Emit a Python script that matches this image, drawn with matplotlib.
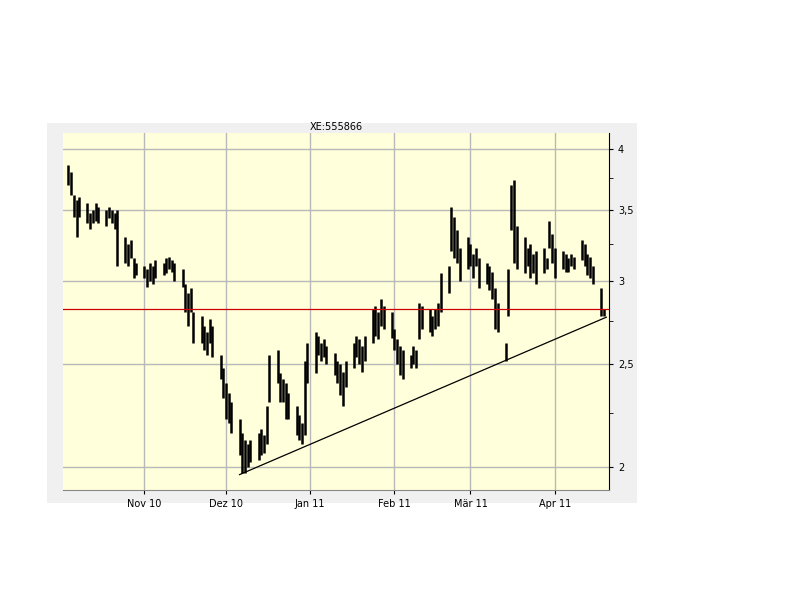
import matplotlib
matplotlib.use("Agg")
import matplotlib.pyplot as plt
from matplotlib.ticker import FixedLocator, FixedFormatter, NullFormatter
import pandas as pd

dates = pd.bdate_range("2010-10-04", "2011-04-19")
highs = [3.86,3.80,3.62,3.58,3.60, 3.55,3.48,3.50,3.55,3.52, 3.50,3.52,3.50,3.48,3.50,
         3.30,3.25,3.28,3.15,3.12, 3.10,3.08,3.12,3.10,3.14, 3.12,3.15,3.16,3.14,3.12,
         3.08,2.98,2.92,2.95,2.80, 2.78,2.72,2.68,2.76,2.72, 2.55,2.48,2.40,2.35,2.30,
         2.22,2.15,2.12,2.10,2.12, 2.15,2.17,2.14,2.28,2.55, 2.58,2.45,2.42,2.40,2.35,
         2.28,2.24,2.20,2.52,2.62, 2.68,2.66,2.62,2.64,2.60, 2.56,2.52,2.50,2.46,2.52,
         2.62,2.66,2.64,2.60,2.66, 2.82,2.84,2.80,2.88,2.84, 2.80,2.70,2.64,2.60,2.58,
         2.55,2.60,2.58,2.86,2.84, 2.82,2.78,2.82,2.86,3.05, 3.10,3.52,3.45,3.35,3.22,
         3.30,3.25,3.18,3.22,3.15, 3.12,3.10,3.06,2.95,2.86, 2.62,3.08,3.70,3.74,3.38,
         3.30,3.22,3.25,3.18,3.20, 3.22,3.15,3.42,3.32,3.22, 3.20,3.18,3.15,3.18,3.16,
         3.28,3.25,3.18,3.16,3.10, 2.95,2.82]
lows = [3.70,3.62,3.45,3.30,3.45, 3.40,3.36,3.40,3.42,3.40, 3.38,3.44,3.40,3.36,3.10,
        3.12,3.10,3.15,3.02,3.04, 3.02,2.96,3.00,2.98,3.02, 3.04,3.05,3.08,3.06,3.00,
        2.96,2.80,2.72,2.80,2.62, 2.62,2.58,2.55,2.62,2.54, 2.42,2.32,2.22,2.20,2.15,
        2.05,1.97,1.97,2.00,2.02, 2.03,2.05,2.06,2.10,2.30, 2.40,2.30,2.30,2.22,2.22,
        2.14,2.12,2.10,2.14,2.40, 2.45,2.55,2.52,2.54,2.50, 2.44,2.40,2.34,2.28,2.38,
        2.48,2.54,2.50,2.46,2.52, 2.62,2.66,2.64,2.72,2.70, 2.65,2.58,2.50,2.44,2.42,
        2.48,2.50,2.48,2.64,2.70, 2.68,2.66,2.70,2.72,2.80, 2.92,3.20,3.15,3.12,3.00,
        3.08,3.10,3.02,3.10,2.95, 2.98,2.94,2.88,2.70,2.68, 2.52,2.78,3.35,3.12,3.08,
        3.05,3.10,3.02,3.05,2.98, 3.05,3.08,3.22,3.12,3.02, 3.08,3.06,3.06,3.10,3.08,
        3.14,3.10,3.04,3.02,2.98, 2.78,2.78]
trend_dates = ["2010-12-06", "2011-04-20"]
trend_values = [1.965, 2.77]
level = 2.82
title = "XE:555866"
month_ticks = ["2010-11-01", "2010-12-01", "2011-01-01", "2011-02-01", "2011-03-01", "2011-04-01"]
month_labels = ["Nov 10", "Dez 10", "Jan 11", "Feb 11", "Mär 11", "Apr 11"]
y_ticks = [2, 2.5, 3, 3.5, 4]
y_labels = ["2", "2,5", "3", "3,5", "4"]
y_minor = [2.25, 2.75, 3.25, 3.75]

fig = plt.figure(figsize=(8, 6), dpi=100)
bg = fig.add_axes([0.05875, 0.1617, 0.7375, 0.6333], zorder=-5)
bg.set_facecolor("#f0f0f0")
bg.set_xticks([]); bg.set_yticks([])
for s in bg.spines.values():
    s.set_visible(False)

ax = fig.add_axes([0.07875, 0.1833, 0.6825, 0.595], zorder=1)
ax.set_facecolor("#ffffdc")
ax.set_yscale("log")
ax.vlines(dates, lows, highs, color="black", linewidth=1.8, zorder=3)
ax.plot(pd.to_datetime(trend_dates), trend_values, color="black", linewidth=0.9, zorder=4)
ax.axhline(level, color="#cc0000", linewidth=0.9, zorder=4)
ax.set_xlim(pd.Timestamp("2010-10-02"), pd.Timestamp("2011-04-21"))
ax.set_ylim(1.90, 4.14)
ax.yaxis.set_major_locator(FixedLocator(y_ticks))
ax.yaxis.set_major_formatter(FixedFormatter(y_labels))
ax.yaxis.set_minor_locator(FixedLocator(y_minor))
ax.yaxis.set_minor_formatter(NullFormatter())
ax.yaxis.tick_right()
ax.set_xticks(pd.to_datetime(month_ticks))
ax.set_xticklabels(month_labels)
ax.tick_params(labelsize=7, length=3, direction="out")
ax.tick_params(axis="y", which="minor", length=3)
ax.grid(True, which="major", color="#b8b8b8", linewidth=1)
for s in ["top", "left"]:
    ax.spines[s].set_visible(False)
ax.spines["bottom"].set_color("#888888")
ax.spines["right"].set_color("black")
ax.set_title(title, fontsize=7, pad=2)
fig.savefig("out.png", dpi=100)
